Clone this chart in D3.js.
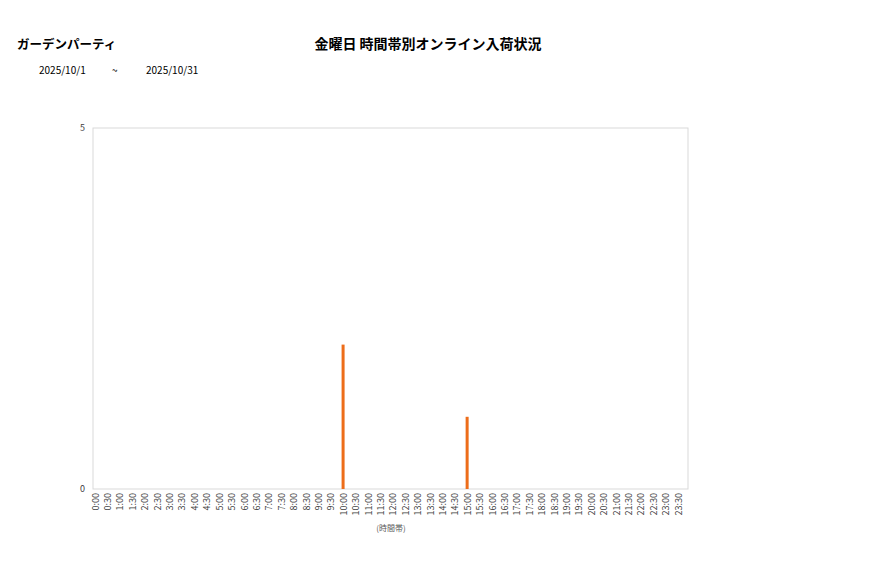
<!DOCTYPE html>
<html>
<head>
<meta charset="utf-8">
<script src="https://cdn.jsdelivr.net/npm/d3@7"></script>
<style>
body { margin: 0; background: #fff; }
text { font-family: "Noto Sans CJK JP", "Noto Sans", sans-serif; }
</style>
</head>
<body>
<div id="chart"></div>
<script>
const shopName = "ガーデンパーティ";
const chartTitle = "金曜日 時間帯別オンライン入荷状況";
const dateFrom = "2025/10/1";
const dateTo = "2025/10/31";
const xTitle = "(時間帯)";

let timeSlots = [];
for (let h = 0; h < 24; h++) {
    timeSlots.push(h + ":00");
    timeSlots.push(h + ":30");
}
const counts = [0,0,0,0,0,0,0,0,0,0,0,0,0,0,0,0,0,0,0,0,
                2,0,0,0,0,0,0,0,0,0,1,0,0,0,0,0,0,0,0,0,
                0,0,0,0,0,0,0,0];
const yTicks = [0, 5];

const width = 877;
const height = 578;
const plot = {left: 93, right: 688, top: 128, bottom: 489};

const data = timeSlots.map((t, i) => ({slot: t, value: counts[i]}));

const svg = d3.select('#chart').append('svg')
    .attr('width', width).attr('height', height);

const x = d3.scalePoint()
    .domain(timeSlots)
    .range([95, 678]);

const y = d3.scaleLinear()
    .domain([0, 5])
    .range([plot.bottom, plot.top]);

// frame
svg.append('rect')
    .attr('x', plot.left).attr('y', plot.top)
    .attr('width', plot.right - plot.left)
    .attr('height', plot.bottom - plot.top)
    .attr('fill', 'none')
    .attr('stroke', '#d9d9d9')
    .attr('stroke-width', 1);

// bars
svg.append('g').selectAll('rect')
    .data(data.filter(d => d.value > 0))
    .join('rect')
    .attr('x', d => x(d.slot) - 1.5)
    .attr('width', 3)
    .attr('y', d => y(d.value))
    .attr('height', d => y(0) - y(d.value))
    .attr('fill', '#ed6d1a');

// y axis
const yAxis = svg.append('g')
    .attr('transform', `translate(${plot.left},0)`)
    .call(d3.axisLeft(y).tickValues(yTicks).tickFormat(d3.format('d')).tickSize(0).tickPadding(8));
yAxis.select('.domain').remove();
yAxis.selectAll('text')
    .attr('font-size', 9)
    .attr('fill', '#404040');

// x axis
const xAxis = svg.append('g')
    .attr('transform', `translate(0,${plot.bottom})`)
    .call(d3.axisBottom(x).tickSize(0));
xAxis.select('.domain').remove();
xAxis.selectAll('text')
    .attr('font-size', 9)
    .attr('fill', '#404040')
    .attr('transform', 'rotate(-90)')
    .attr('text-anchor', 'end')
    .attr('x', -4)
    .attr('y', 0)
    .attr('dy', '0.35em');

svg.append('text')
    .attr('x', 391).attr('y', 531)
    .attr('text-anchor', 'middle')
    .attr('font-size', 8)
    .attr('fill', '#595959')
    .text(xTitle);

// titles
svg.append('text')
    .attr('x', 17).attr('y', 49)
    .attr('font-size', 12.5)
    .attr('font-weight', 'bold')
    .attr('fill', '#000')
    .text(shopName);

svg.append('text')
    .attr('x', 428).attr('y', 49)
    .attr('text-anchor', 'middle')
    .attr('font-size', 14)
    .attr('font-weight', 'bold')
    .attr('fill', '#000')
    .text(chartTitle);

svg.append('text')
    .attr('x', 39).attr('y', 74)
    .attr('font-size', 10)
    .attr('fill', '#000')
    .text(dateFrom);
svg.append('text')
    .attr('x', 112).attr('y', 74)
    .attr('font-size', 10)
    .attr('fill', '#000')
    .text("~");
svg.append('text')
    .attr('x', 146).attr('y', 74)
    .attr('font-size', 10)
    .attr('fill', '#000')
    .text(dateTo);
</script>
</body>
</html>
